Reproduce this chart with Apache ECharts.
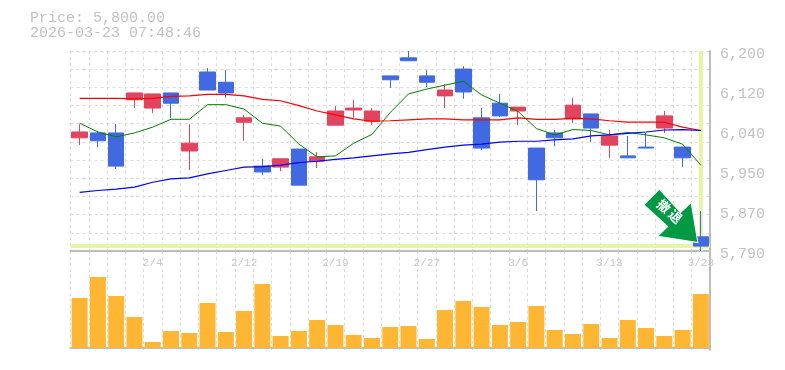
<!DOCTYPE html>
<html><head><meta charset="utf-8">
<style>html,body{margin:0;padding:0;background:#fff}#c{width:785px;height:370px}</style>
<script src="https://cdn.jsdelivr.net/npm/echarts@6/dist/echarts.min.js"></script>
</head><body><div id="c"></div>
<script>
const dates = ['1/29','1/30','2/2','2/3','2/4','2/5','2/6','2/9','2/10','2/12','2/13','2/16','2/17','2/18','2/19','2/20','2/24','2/25','2/26','2/27','3/2','3/3','3/4','3/5','3/6','3/9','3/10','3/11','3/12','3/13','3/16','3/17','3/18','3/19','3/23'];
const dateTicks = ['2/4','2/12','2/19','2/27','3/6','3/13','3/23'];
const opens  = [6022,6032,6032,6100,6083,6114,5995,6157,6136,6054,5964,5962,5999,5974,6048,6079,6056,6149,6186,6149,6108,6163,6063,6093,6077,6001,6032,6061,6071,6007,5985,6003,6042,6003,5819];
const closes = [6034,6016,5964,6114,6112,6093,6011,6120,6114,6063,5952,5979,5925,5983,6077,6083,6077,6141,6180,6136,6120,6116,6001,6067,6085,5936,6022,6089,6042,6026,5981,6001,6067,5981,5800];
const lows   = [6007,6003,5958,6083,6073,6063,5956,6120,6104,6016,5946,5954,5925,5960,6048,6063,6048,6124,6180,6126,6083,6102,5997,6065,6048,5872,6005,6052,6013,5981,5981,6001,6032,5962,5790];
const highs  = [6050,6036,6050,6114,6112,6114,6050,6165,6161,6069,5979,5979,5999,5993,6087,6100,6083,6149,6200,6161,6132,6169,6083,6112,6085,6001,6038,6104,6071,6038,6026,6032,6077,6003,5872];
const maShort = [6052,6034,6024,6032,6044,6060,6060,6090,6090,6081,6052,6046,6009,5983,5985,6011,6029,6074,6112,6122,6130,6138,6110,6093,6076,6041,6028,6039,6037,6028,6033,6028,6022,6009,5966];
const maMid   = [6103,6103,6103,6102,6103,6107,6108,6111,6111,6108,6101,6098,6088,6077,6069,6061,6056,6057,6059,6061,6061,6059,6059,6059,6063,6060,6060,6062,6061,6057,6054,6054,6054,6044,6037];
const maLong  = [5910,5914,5917,5921,5931,5938,5940,5948,5955,5962,5963,5966,5971,5974,5978,5981,5985,5989,5992,5998,6003,6007,6009,6013,6015,6015,6018,6020,6026,6028,6031,6034,6038,6039,6037];
const volumes = [50,71,52,31,6,17,15,45,16,37,64,12,17,28,23,13,10,21,22,9,38,47,41,23,26,42,18,14,24,10,28,20,12,18,54];
const priceTicks = [5790,5872,5954,6036,6118,6200];
const priceMin = 5790, priceMax = 6200;
const gridDivisions = [5790,5827.3,5864.5,5901.8,5939.1,5976.4,6013.6,6050.9,6088.2,6125.5,6162.7,6200];
const currentPrice = 5800;
const priceText = 'Price: 5,800.00';
const timeText = '2026-03-23 07:48:46';
const arrowText = '撤\u2009退';

const GREY = '#c2c2c2', GRID = '#dcdcdc', AXIS = '#bdbdbd';
const MONO = '"Liberation Mono","DejaVu Sans Mono",monospace';
const splitLine = {show:true, interval:0, lineStyle:{color:GRID, width:1, type:[3,3]}};
const chart = echarts.init(document.getElementById('c'), null, {renderer:'canvas'});
const last = dates.length - 1;

chart.setOption({
  animation:false,
  backgroundColor:'#fff',
  title:{left:30, top:11, padding:0, text:priceText + '\n' + timeText, textStyle:{color:GREY, fontFamily:MONO, fontSize:15, fontWeight:'normal', lineHeight:15}},
  grid:[
    {left:70.5, width:639.5, top:51, height:200},
    {left:70.5, width:639.5, top:251, height:99}
  ],
  xAxis:[
    {type:'category', gridIndex:0, data:dates, boundaryGap:true,
     axisLine:{show:true, lineStyle:{color:AXIS, width:2}}, axisTick:{show:false},
     axisLabel:{color:'#c8c8c8', fontFamily:MONO, fontSize:11, margin:7, interval:(i,v)=>dateTicks.includes(v), hideOverlap:false},
     splitLine},
    {type:'category', gridIndex:1, data:dates, boundaryGap:true,
     axisLine:{show:true, lineStyle:{color:AXIS, width:2}}, axisTick:{show:false}, axisLabel:{show:false},
     splitLine}
  ],
  yAxis:[
    {type:'value', gridIndex:0, position:'right', min:priceMin, max:priceMax, scale:true,
     axisLine:{show:true, lineStyle:{color:AXIS, width:2}},
     axisTick:{show:false, customValues:gridDivisions},
     axisLabel:{color:GREY, fontFamily:MONO, fontSize:15, margin:10, customValues:priceTicks, verticalAlign:'top', lineHeight:6,
       formatter:v=>(Math.round(v/10)*10).toLocaleString('en-US')},
     splitLine:{show:true, lineStyle:{color:GRID, width:1, type:[3,3]}}},
    {type:'value', gridIndex:1, position:'right', min:-2, max:97,
     axisLine:{show:true, onZero:false, lineStyle:{color:AXIS, width:2}}, axisTick:{show:false}, axisLabel:{show:false}, splitLine:{show:false}}
  ],
  series:[
    {type:'line', name:'guide', xAxisIndex:0, yAxisIndex:0, data:[], z:1, silent:true, showSymbol:false,
     markLine:{silent:true, symbol:'none', animation:false, label:{show:false}, z:1,
       lineStyle:{color:'#e4f6a6', width:4, type:'solid'},
       data:[{yAxis:currentPrice},{xAxis:last}]}},
    {type:'candlestick', xAxisIndex:0, yAxisIndex:0, barWidth:16, z:3,
     data:dates.map((d,i)=>[opens[i],closes[i],lows[i],highs[i]]),
     itemStyle:{color:'#e2435f', color0:'#4169e1', borderColor:'#e2435f', borderColor0:'#4169e1', borderWidth:1},
     markPoint:{silent:true, animation:false, z:10,
       data:[{coord:[last,currentPrice],
         symbol:'path://M14.7 0L0 15L22.7 35.7L13 45L51.4 51L45 12.7L35 22.3Z',
         symbolSize:[54,53.5], symbolKeepAspect:false, symbolOffset:[-30,-30.3],
         itemStyle:{color:'#009944', borderColor:'#fff', borderWidth:1},
         label:{show:true, formatter:arrowText, position:'inside', rotate:-42, offset:[-4,-2.5],
           color:'#fff', fontSize:13, fontWeight:'bold', fontFamily:'"Noto Sans CJK JP"'}}]}},
    {type:'line', xAxisIndex:0, yAxisIndex:0, data:maShort, showSymbol:false, z:4, lineStyle:{color:'#008000', width:1}},
    {type:'line', xAxisIndex:0, yAxisIndex:0, data:maMid, showSymbol:false, z:4, lineStyle:{color:'#ff0000', width:1.2}},
    {type:'line', xAxisIndex:0, yAxisIndex:0, data:maLong, showSymbol:false, z:4, lineStyle:{color:'#0000ff', width:1.2}},
    {type:'bar', xAxisIndex:1, yAxisIndex:1, data:volumes, barWidth:16, z:3, itemStyle:{color:'#ffb733'}}
  ]
});
</script></body></html>
